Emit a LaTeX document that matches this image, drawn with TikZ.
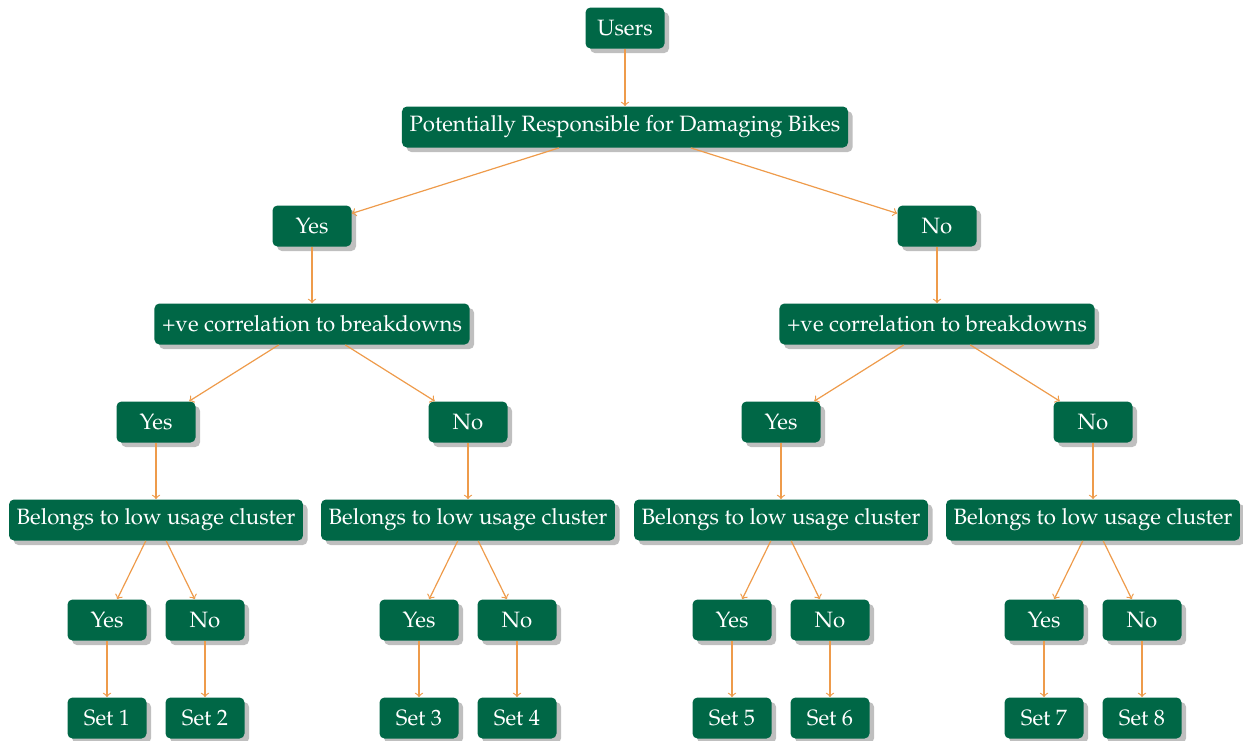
\documentclass[tikz,border=0pt]{standalone}
\usepackage[T1]{fontenc}
\usepackage{mathpazo}
\usetikzlibrary{shadows}
\definecolor{boxgreen}{RGB}{0,103,70}
\definecolor{linkorange}{RGB}{238,155,75}
\tikzset{
  box/.style={rectangle, rounded corners=2.5pt, fill=boxgreen, text=white,
    font=\fontsize{11.1}{13}\selectfont, inner xsep=3.8pt, inner ysep=0pt,
    minimum height=20.5pt, minimum width=39.5pt,
    drop shadow={shadow xshift=2.3pt, shadow yshift=-2.3pt, fill=black!25, opacity=1}},
  link/.style={draw=linkorange, semithick, -to}
}
\begin{document}
\begin{tikzpicture}[x=0.5pt, y=-0.5pt]
\useasboundingbox (0,0) rectangle (1243,740);
% root and first split
\node[box] (users) at (625,28) {Users};
\node[box] (resp) at (625,127) {Potentially Responsible for Damaging Bikes};
\node[box] (yA) at (312,226) {Yes};
\node[box] (nA) at (937,226) {No};
% correlation with breakdowns
\node[box] (cL) at (312,324) {+ve correlation to breakdowns};
\node[box] (cR) at (937,324) {+ve correlation to breakdowns};
\node[box] (yB1) at (156,422) {Yes};
\node[box] (nB1) at (468,422) {No};
\node[box] (yB2) at (781,422) {Yes};
\node[box] (nB2) at (1093,422) {No};
% low usage cluster
\node[box] (u1) at (156,520) {Belongs to low usage cluster};
\node[box] (u2) at (468,520) {Belongs to low usage cluster};
\node[box] (u3) at (781,520) {Belongs to low usage cluster};
\node[box] (u4) at (1093,520) {Belongs to low usage cluster};
\foreach \i/\x in {1/107,2/205,3/419,4/517,5/732,6/830,7/1044,8/1142}{
  \pgfmathtruncatemacro{\k}{mod(\i,2)}
  \ifnum\k=1
    \node[box] (a\i) at (\x,620) {Yes};
  \else
    \node[box] (a\i) at (\x,620) {No};
  \fi
  \node[box] (s\i) at (\x,718) {Set \i};
}
% connectors
\draw[link] (users) -- (resp);
\draw[link] (resp) -- (yA);
\draw[link] (resp) -- (nA);
\draw[link] (yA) -- (cL);
\draw[link] (nA) -- (cR);
\draw[link] (cL) -- (yB1);
\draw[link] (cL) -- (nB1);
\draw[link] (cR) -- (yB2);
\draw[link] (cR) -- (nB2);
\draw[link] (yB1) -- (u1);
\draw[link] (nB1) -- (u2);
\draw[link] (yB2) -- (u3);
\draw[link] (nB2) -- (u4);
\draw[link] (u1) -- (a1);
\draw[link] (u1) -- (a2);
\draw[link] (u2) -- (a3);
\draw[link] (u2) -- (a4);
\draw[link] (u3) -- (a5);
\draw[link] (u3) -- (a6);
\draw[link] (u4) -- (a7);
\draw[link] (u4) -- (a8);
\foreach \i in {1,...,8}{
  \draw[link] (a\i) -- (s\i);
}
\end{tikzpicture}
\end{document}
